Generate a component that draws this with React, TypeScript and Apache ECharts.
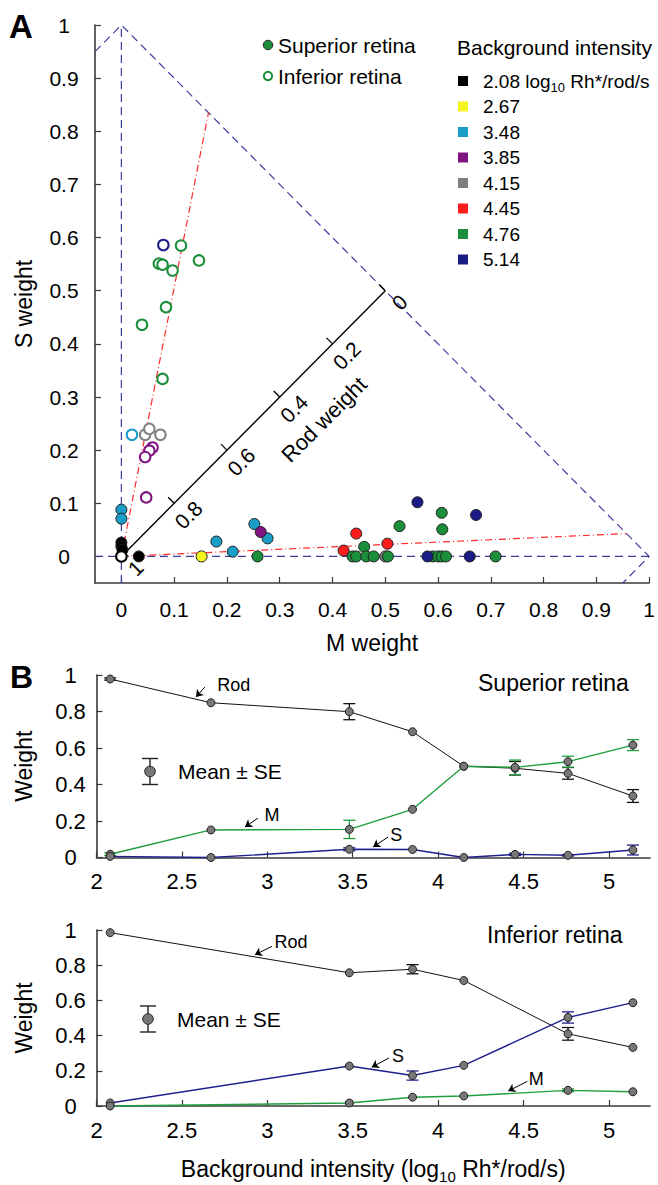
import React, { useEffect, useRef } from 'react';
import * as echarts from 'echarts';

const FONT = '"Liberation Sans", Arial, Helvetica, sans-serif';

// ---------- Panel A ----------
const intensityLabels = ['2.08', '2.67', '3.48', '3.85', '4.15', '4.45', '4.76', '5.14'];
const intensityColors = ['#000000', '#f5f51e', '#1a9dc6', '#7f137f', '#808080', '#ff1c1c', '#1b8e3b', '#1b1b85'];

// Superior retina (filled): [M weight, S weight]
const sup208 = [[0, 0.026], [0, 0.019], [0.002, 0.012], [0.033, 0]];
const sup267 = [[0.152, 0]];
const sup348 = [[0, 0.088], [0, 0.071], [0.18, 0.028], [0.211, 0.009], [0.252, 0.061], [0.277, 0.034]];
const sup385 = [[0.264, 0.046]];
const sup415 = [[0.5, 0]];
const sup445 = [[0.421, 0.011], [0.445, 0.043], [0.504, 0.024]];
const sup476 = [[0.258, 0], [0.438, 0], [0.445, 0], [0.46, 0.018], [0.464, 0], [0.478, 0], [0.505, 0], [0.527, 0.057], [0.59, 0], [0.6, 0], [0.607, 0], [0.615, 0], [0.607, 0.082], [0.608, 0.051], [0.709, 0]];
const sup514 = [[0.561, 0.102], [0.58, 0], [0.66, 0], [0.672, 0.078]];

// Inferior retina (open): [M weight, S weight]
const inf208 = [[0, 0]];
const inf267: number[][] = [];
const inf348 = [[0.02, 0.229]];
const inf385 = [[0.059, 0.205], [0.053, 0.199], [0.045, 0.187], [0.047, 0.111]];
const inf415 = [[0.045, 0.229], [0.053, 0.24], [0.074, 0.229]];
const inf445: number[][] = [];
const inf476 = [[0.113, 0.585], [0.071, 0.551], [0.078, 0.549], [0.097, 0.538], [0.147, 0.557], [0.0845, 0.469], [0.039, 0.436], [0.078, 0.334]];
const inf514 = [[0.0795, 0.586]];

const superiorPoints = [sup208, sup267, sup348, sup385, sup415, sup445, sup476, sup514];
const inferiorPoints = [inf208, inf267, inf348, inf385, inf415, inf445, inf476, inf514];

const axisATicks = [0, 0.1, 0.2, 0.3, 0.4, 0.5, 0.6, 0.7, 0.8, 0.9, 1];
const triangleBase = [[-0.05, 0], [1, 0]];
const triangleLeft = [[0, -0.05], [0, 1]];
const triangleHyp = [[-0.05, 0.95], [0, 1], [1, 0], [0.95, -0.05]];
const inferiorFit = [[0, 0], [0.165, 0.835]];
const superiorFit = [[0, 0], [0.957, 0.043]];
const rodTicks = [0, 0.2, 0.4, 0.6, 0.8, 1];
const rodTitlePos = [0.384, 0.2575];

// ---------- Panel B ----------
const xTicksB = [2, 2.5, 3, 3.5, 4, 4.5, 5];

const xSup = [2.08, 2.67, 3.48, 3.85, 4.15, 4.45, 4.76, 5.14];
const supRod = [0.978, 0.848, 0.799, 0.689, 0.5, 0.489, 0.461, 0.337];
const supRodSE = [0.006, 0, 0.044, 0, 0, 0.037, 0.032, 0.035];
const supM = [0.018, 0.151, 0.154, 0.264, 0.5, 0.494, 0.525, 0.616];
const supMSE = [0.008, 0, 0.05, 0, 0, 0.04, 0.03, 0.03];
const supS = [0.006, 0, 0.045, 0.044, 0, 0.017, 0.012, 0.041];
const supSSE = [0, 0, 0.008, 0, 0, 0.006, 0.004, 0.027];

const xInf = [2.08, 3.48, 3.85, 4.15, 4.76, 5.14];
const infRod = [0.985, 0.757, 0.777, 0.713, 0.41, 0.333];
const infRodSE = [0, 0, 0.026, 0, 0.036, 0];
const infS = [0.017, 0.227, 0.173, 0.231, 0.503, 0.587];
const infSSE = [0, 0, 0.026, 0, 0.032, 0];
const infM = [0, 0.017, 0.05, 0.057, 0.089, 0.081];
const infMSE = [0, 0, 0, 0, 0.008, 0];

const COL_ROD = '#111111';
const COL_M = '#1f9e3c';
const COL_S = '#1f1f8e';
const BLUE_DASH = '#3d3d9e';

const plainLabel = {
  color: '#000', textBorderWidth: 0, textBorderColor: 'transparent', textShadowBlur: 0, fontFamily: FONT,
  position: [0.5, 0.5], align: 'center', verticalAlign: 'middle', opacity: 1,
};

function errorBars(xs: number[], ys: number[], ses: number[], color: string, idx: number) {
  const data = xs.map((x, i) => [x, ys[i] - ses[i], ys[i] + ses[i], ses[i]]).filter((d) => d[3] > 0);
  return {
    type: 'custom',
    xAxisIndex: idx,
    yAxisIndex: idx,
    data,
    silent: true,
    z: 2,
    renderItem: (_p: any, api: any) => {
      const lo = api.coord([api.value(0), api.value(1)]);
      const hi = api.coord([api.value(0), api.value(2)]);
      const w = 6;
      const st = { stroke: color, lineWidth: 1.3 };
      return {
        type: 'group',
        children: [
          { type: 'line', shape: { x1: lo[0], y1: lo[1], x2: hi[0], y2: hi[1] }, style: st },
          { type: 'line', shape: { x1: lo[0] - w, y1: lo[1], x2: lo[0] + w, y2: lo[1] }, style: st },
          { type: 'line', shape: { x1: hi[0] - w, y1: hi[1], x2: hi[0] + w, y2: hi[1] }, style: st },
        ],
      };
    },
  };
}

function meanLine(xs: number[], ys: number[], color: string, idx: number, width: number) {
  return {
    type: 'line',
    xAxisIndex: idx,
    yAxisIndex: idx,
    data: xs.map((x, i) => [x, ys[i]]),
    symbol: 'circle',
    symbolSize: 8,
    showSymbol: true,
    silent: true,
    z: 3,
    lineStyle: { color, width },
    itemStyle: { color: '#777777', borderColor: '#222222', borderWidth: 1 },
  };
}

function arrow(from: number[], to: number[], idx: number) {
  return {
    type: 'lines',
    coordinateSystem: 'cartesian2d',
    xAxisIndex: idx,
    yAxisIndex: idx,
    silent: true,
    symbol: ['none', 'arrow'],
    symbolSize: 7,
    lineStyle: { color: '#000', width: 1, curveness: 0, opacity: 1 },
    data: [{ coords: [from, to] }],
    z: 4,
  };
}

function annotation(pos: number[], text: string, idx: number, size = 18) {
  return {
    type: 'scatter',
    xAxisIndex: idx,
    yAxisIndex: idx,
    silent: true,
    symbolSize: 1,
    itemStyle: { color: 'rgba(0,0,0,0)' },
    data: [{ value: pos, name: text }],
    label: { show: true, formatter: '{b}', fontSize: size, ...plainLabel },
    z: 6,
  };
}

function dashedLine(data: number[][], color: string, type: any) {
  return {
    type: 'line',
    xAxisIndex: 0,
    yAxisIndex: 0,
    data,
    symbol: 'none',
    showSymbol: false,
    silent: true,
    z: 1,
    lineStyle: { color, width: 1.2, type },
  };
}

const axisBase = (gridIndex: number) => ({
  gridIndex,
  type: 'value',
  splitLine: { show: false },
  axisLine: { show: true, onZero: false, lineStyle: { color: '#3a3a3a', width: 1.6 } },
  axisTick: { show: true, inside: true, length: 6, lineStyle: { color: '#3a3a3a', width: 1.2 } },
});

function buildOption() {
  const series: any[] = [];
  // Panel A reference lines
  series.push(dashedLine(triangleBase, BLUE_DASH, [8, 5]));
  series.push(dashedLine(triangleLeft, BLUE_DASH, [8, 5]));
  series.push(dashedLine(triangleHyp, BLUE_DASH, [8, 5]));
  series.push(dashedLine(inferiorFit, '#ff2a2a', [7, 3, 1, 3]));
  series.push(dashedLine(superiorFit, '#ff2a2a', [7, 3, 1, 3]));
  // rod weight axis
  series.push({
    type: 'line', xAxisIndex: 0, yAxisIndex: 0, data: [[0, 0], [0.5, 0.5]], symbol: 'none', silent: true, z: 2,
    lineStyle: { color: '#000', width: 1.4 },
  });
  series.push({
    type: 'custom', xAxisIndex: 0, yAxisIndex: 0, silent: true, z: 2,
    data: rodTicks.filter((r) => r < 1).map((r) => [(1 - r) / 2, (1 - r) / 2]),
    renderItem: (_p: any, api: any) => {
      const p = api.coord([api.value(0), api.value(1)]);
      return { type: 'line', shape: { x1: p[0], y1: p[1], x2: p[0] - 6, y2: p[1] - 6 }, style: { stroke: '#000', lineWidth: 1.3 } };
    },
  });
  series.push({
    type: 'scatter', xAxisIndex: 0, yAxisIndex: 0, silent: true, symbolSize: 1, z: 6,
    itemStyle: { color: 'rgba(0,0,0,0)' },
    data: rodTicks.map((r) => ({ value: [(1 - r) / 2 + 0.027, (1 - r) / 2 - 0.022], name: String(r) })),
    label: { show: true, rotate: 45, formatter: '{b}', fontSize: 21, ...plainLabel },
  });
  series.push({
    type: 'scatter', xAxisIndex: 0, yAxisIndex: 0, silent: true, symbolSize: 1, z: 6,
    itemStyle: { color: 'rgba(0,0,0,0)' },
    data: [{ value: rodTitlePos, name: 'Rod weight' }],
    label: { show: true, rotate: 45, formatter: '{b}', fontSize: 22, ...plainLabel },
  });
  // scatter points
  superiorPoints.forEach((pts, i) => {
    if (!pts.length) return;
    series.push({
      type: 'scatter', xAxisIndex: 0, yAxisIndex: 0, silent: true, data: pts, symbolSize: 11, z: 5,
      itemStyle: { color: intensityColors[i], borderColor: '#222', borderWidth: 1, opacity: 1 },
    });
  });
  inferiorPoints.forEach((pts, i) => {
    if (!pts.length) return;
    series.push({
      type: 'scatter', xAxisIndex: 0, yAxisIndex: 0, silent: true, data: pts, symbolSize: 10.5, z: 5,
      itemStyle: { color: '#ffffff', borderColor: intensityColors[i], borderWidth: 2, opacity: 1 },
    });
  });

  // Panel B top (superior)
  series.push(errorBars(xSup, supRod, supRodSE, COL_ROD, 1));
  series.push(errorBars(xSup, supM, supMSE, COL_M, 1));
  series.push(errorBars(xSup, supS, supSSE, COL_S, 1));
  series.push(meanLine(xSup, supRod, COL_ROD, 1, 1));
  series.push(meanLine(xSup, supM, COL_M, 1, 1.4));
  series.push(meanLine(xSup, supS, COL_S, 1, 1.4));
  series.push(arrow([2.634, 0.934], [2.582, 0.879], 1));
  series.push(arrow([2.945, 0.216], [2.869, 0.167], 1));
  series.push(arrow([3.707, 0.112], [3.619, 0.058], 1));
  series.push(annotation([2.804, 0.945], 'Rod', 1));
  series.push(annotation([3.027, 0.233], 'M', 1));
  series.push(annotation([3.754, 0.123], 'S', 1));

  // Panel B bottom (inferior)
  series.push(errorBars(xInf, infRod, infRodSE, COL_ROD, 2));
  series.push(errorBars(xInf, infS, infSSE, COL_S, 2));
  series.push(errorBars(xInf, infM, infMSE, COL_M, 2));
  series.push(meanLine(xInf, infRod, COL_ROD, 2, 1));
  series.push(meanLine(xInf, infS, COL_S, 2, 1.4));
  series.push(meanLine(xInf, infM, COL_M, 2, 1.4));
  series.push(arrow([3.027, 0.907], [2.927, 0.859], 2));
  series.push(arrow([3.712, 0.273], [3.611, 0.22], 2));
  series.push(arrow([4.522, 0.14], [4.41, 0.085], 2));
  series.push(annotation([3.138, 0.929], 'Rod', 2));
  series.push(annotation([3.765, 0.284], 'S', 2));
  series.push(annotation([4.574, 0.156], 'M', 2));

  const txt = (x: number, y: number, text: string, size: number, extra: any = {}) => ({
    type: 'text', x, y, silent: true,
    style: {
      text, fontSize: size, fontFamily: FONT, fill: '#000',
      textAlign: 'left', textVerticalAlign: 'middle', align: 'left', verticalAlign: 'middle', ...extra,
    },
  });

  const graphic: any[] = [];
  graphic.push(txt(9, 26, 'A', 33, { fontWeight: 'bold' }));
  graphic.push(txt(10, 677, 'B', 32, { fontWeight: 'bold' }));
  // legend: retina
  graphic.push({ type: 'circle', shape: { cx: 268, cy: 45, r: 4.7 }, style: { fill: intensityColors[6], stroke: '#222', lineWidth: 1 } });
  graphic.push(txt(278, 45, 'Superior retina', 21));
  graphic.push({ type: 'circle', shape: { cx: 268, cy: 76, r: 4.2 }, style: { fill: '#fff', stroke: intensityColors[6], lineWidth: 2 } });
  graphic.push(txt(278, 76, 'Inferior retina', 21));
  // legend: intensities
  graphic.push(txt(457, 47, 'Background intensity', 21));
  intensityLabels.forEach((lab, i) => {
    const y = 81 + i * 25.5;
    graphic.push({ type: 'rect', shape: { x: 458, y: y - 5, width: 10, height: 10 }, style: { fill: intensityColors[i] } });
    if (i === 0) {
      graphic.push({
        type: 'text', x: 483, y, silent: true,
        style: {
          text: '{n|' + lab + ' log}{s|10}{n| Rh*/rod/s}',
          fontFamily: FONT, fill: '#000', textVerticalAlign: 'middle', verticalAlign: 'middle',
          rich: {
            n: { fontSize: 19, fontFamily: FONT, lineHeight: 26, verticalAlign: 'middle' },
            s: { fontSize: 13, fontFamily: FONT, lineHeight: 26, verticalAlign: 'bottom', padding: [10, 0, 0, 0] },
          },
        },
      });
    } else {
      graphic.push(txt(483, y, lab, 19));
    }
  });
  // Panel B titles
  graphic.push(txt(478, 683, 'Superior retina', 23));
  graphic.push(txt(487, 935, 'Inferior retina', 23));
  // Mean ± SE legends
  const meanIcon = (cx: number, cy: number) => {
    const st = { stroke: '#222', lineWidth: 1.4 };
    graphic.push({ type: 'line', shape: { x1: cx, y1: cy - 13, x2: cx, y2: cy + 13 }, style: st });
    graphic.push({ type: 'line', shape: { x1: cx - 8, y1: cy - 13, x2: cx + 8, y2: cy - 13 }, style: st });
    graphic.push({ type: 'line', shape: { x1: cx - 8, y1: cy + 13, x2: cx + 8, y2: cy + 13 }, style: st });
    graphic.push({ type: 'circle', shape: { cx, cy, r: 5.3 }, style: { fill: '#777', stroke: '#222', lineWidth: 1 } });
  };
  meanIcon(150, 771.5);
  graphic.push(txt(178, 771.5, 'Mean ± SE', 21));
  meanIcon(148, 1019);
  graphic.push(txt(177, 1019, 'Mean ± SE', 21));

  const labelA = { fontSize: 21, fontFamily: FONT, color: '#000' };
  const labelB = { fontSize: 22, fontFamily: FONT, color: '#000' };

  return {
    animation: false,
    backgroundColor: '#ffffff',
    grid: [
      { left: 95, top: 25, width: 558, height: 558 },
      { left: 96.5, top: 675, width: 553.5, height: 182.5 },
      { left: 96.5, top: 930, width: 553.5, height: 182.5 },
    ],
    xAxis: [
      {
        ...axisBase(0), min: -0.05, max: 1,
        axisLabel: { ...labelA, margin: 16, customValues: axisATicks },
        axisTick: { show: true, inside: true, length: 6, customValues: axisATicks, lineStyle: { color: '#3a3a3a', width: 1.2 } },
        name: 'M weight', nameLocation: 'middle', nameGap: 48,
        nameTextStyle: { fontSize: 23, fontFamily: FONT, color: '#000' },
      },
      {
        ...axisBase(1), min: 2, max: 5.24,
        axisLabel: { ...labelB, margin: 13, customValues: xTicksB },
        axisTick: { show: true, inside: true, length: 6, customValues: xTicksB, lineStyle: { color: '#3a3a3a', width: 1.2 } },
      },
      {
        ...axisBase(2), min: 2, max: 5.24,
        axisLabel: { ...labelB, margin: 13, customValues: xTicksB },
        axisTick: { show: true, inside: true, length: 6, customValues: xTicksB, lineStyle: { color: '#3a3a3a', width: 1.2 } },
        name: '{n|Background intensity (log}{s|10}{n| Rh*/rod/s)}', nameLocation: 'middle', nameGap: 48,
        nameTextStyle: {
          fontSize: 23, fontFamily: FONT, color: '#000',
          rich: {
            n: { fontSize: 23, fontFamily: FONT, color: '#000', lineHeight: 30, verticalAlign: 'middle' },
            s: { fontSize: 15, fontFamily: FONT, color: '#000', lineHeight: 30, verticalAlign: 'bottom', padding: [12, 0, 0, 0] },
          },
        },
      },
    ],
    yAxis: [
      {
        ...axisBase(0), min: -0.05, max: 1,
        axisLabel: { ...labelA, margin: 31, align: 'center', customValues: axisATicks },
        axisTick: { show: true, inside: true, length: 6, customValues: axisATicks, lineStyle: { color: '#3a3a3a', width: 1.2 } },
        name: 'S weight', nameLocation: 'middle', nameGap: 60,
        nameTextStyle: { fontSize: 23, fontFamily: FONT, color: '#000' },
      },
      {
        ...axisBase(1), min: 0, max: 1, interval: 0.2,
        axisLabel: { ...labelB, margin: 26, align: 'center' },
        name: 'Weight', nameLocation: 'middle', nameGap: 61,
        nameTextStyle: { fontSize: 23, fontFamily: FONT, color: '#000' },
      },
      {
        ...axisBase(2), min: 0, max: 1, interval: 0.2,
        axisLabel: { ...labelB, margin: 26, align: 'center' },
        name: 'Weight', nameLocation: 'middle', nameGap: 61,
        nameTextStyle: { fontSize: 23, fontFamily: FONT, color: '#000' },
      },
    ],
    series,
    graphic,
  };
}

export default function App() {
  const ref = useRef<HTMLDivElement>(null);
  useEffect(() => {
    document.body.style.margin = '0';
    if (!ref.current) return;
    const chart = echarts.init(ref.current, undefined, { renderer: 'svg' });
    chart.setOption(buildOption() as any);
    return () => chart.dispose();
  }, []);
  return <div ref={ref} style={{ width: 658, height: 1185, position: 'absolute', left: 0, top: 0 }} />;
}
